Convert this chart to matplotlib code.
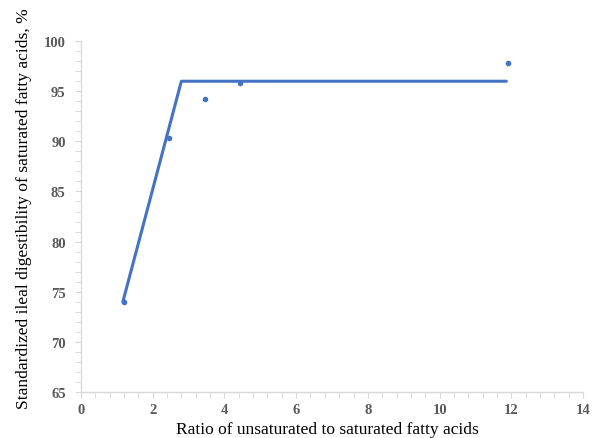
import numpy as np
import matplotlib.pyplot as plt
from matplotlib.ticker import MultipleLocator

# observed points
ratio = [1.2, 2.46, 3.45, 4.44, 11.92]
digestibility = [74.0, 90.3, 94.2, 95.8, 97.8]

# broken-line fit
fit_x = [1.17, 2.8, 11.86]
fit_y = [74.0, 96.0, 96.0]

blue = '#4472c4'
grey = '#595959'

plt.rcParams['font.family'] = ['Liberation Serif', 'DejaVu Serif']

fig = plt.figure(figsize=(5.95, 4.39), dpi=100)
ax = fig.add_axes([0.136, 0.105, 0.844, 0.799])

ax.plot(fit_x, fit_y, color=blue, lw=2.2, solid_capstyle='round')
ax.scatter(ratio, digestibility, s=9, color=blue, zorder=3)

ax.set_xlim(0, 14)
ax.set_ylim(65, 100)
ax.xaxis.set_major_locator(MultipleLocator(2))
ax.xaxis.set_minor_locator(MultipleLocator(0.4))
ax.yaxis.set_major_locator(MultipleLocator(5))
ax.yaxis.set_minor_locator(MultipleLocator(1))

for s in ['top', 'right']:
    ax.spines[s].set_visible(False)
for s in ['left', 'bottom']:
    ax.spines[s].set_color('#d9d9d9')
    ax.spines[s].set_linewidth(1)
ax.tick_params(which='both', direction='out', color='#d9d9d9', labelcolor=grey, labelsize=10.5)
ax.tick_params(which='both', length=4)
ax.tick_params(axis='x', pad=4)
ax.tick_params(axis='y', pad=7)
for lbl in ax.get_xticklabels() + ax.get_yticklabels():
    lbl.set_fontweight('bold')

# axis titles placed like the original
fig.text(327 / 595, 1 - 430 / 439, 'Ratio of unsaturated to saturated fatty acids',
         fontsize=12.5, ha='center', va='center')
fig.text(24 / 595, 1 - 209 / 439, 'Standardized ileal digestibility of saturated fatty acids, %',
         fontsize=12.6, rotation=90, ha='center', va='center')

plt.savefig('out.png', dpi=100)
